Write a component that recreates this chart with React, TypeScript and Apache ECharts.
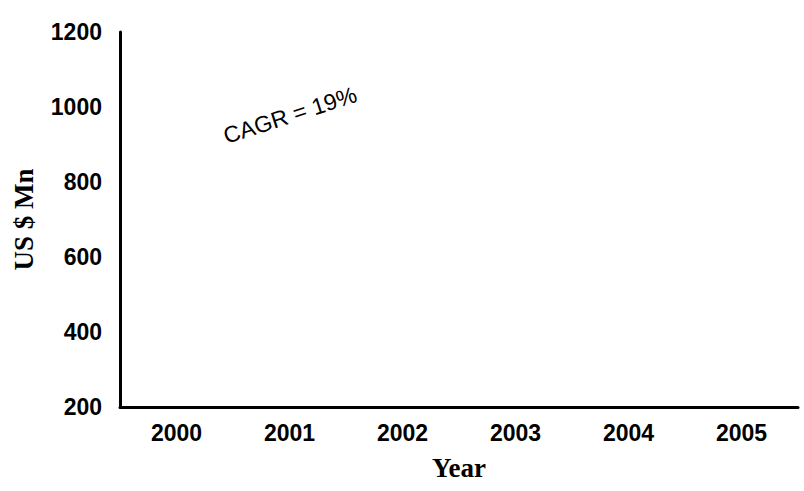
import React, { useEffect, useRef } from "react";
import * as echarts from "echarts";

const categories = ["2000", "2001", "2002", "2003", "2004", "2005"];
// No bars are visible in the reference picture; values are left empty.
const values: (number | null)[] = [null, null, null, null, null, null];
const yMin = 200;
const yMax = 1200;
const yInterval = 200;
const annotation = "CAGR = 19%";
const xTitle = "Year";
const yTitle = "US $ Mn";

export default function App() {
  const ref = useRef<HTMLDivElement>(null);
  useEffect(() => {
    if (!ref.current) return;
    const chart = echarts.init(ref.current, undefined, { renderer: "svg" });
    chart.setOption({
      animation: false,
      backgroundColor: "#ffffff",
      grid: { left: 120, right: 6, top: 32, bottom: 84 },
      xAxis: {
        type: "category",
        data: categories,
        boundaryGap: true,
        axisLine: { show: true, lineStyle: { color: "#000", width: 3 } },
        axisTick: { show: false },
        axisLabel: {
          margin: 14,
          color: "#000",
          fontFamily: "Liberation Sans, Arial, sans-serif",
          fontWeight: "bold",
          fontSize: 23,
        },
        name: xTitle,
        nameLocation: "middle",
        nameGap: 47,
        nameTextStyle: {
          color: "#000",
          fontFamily: "Liberation Serif, Times New Roman, serif",
          fontWeight: "bold",
          fontSize: 27,
        },
      },
      yAxis: {
        type: "value",
        min: yMin,
        max: yMax,
        interval: yInterval,
        splitLine: { show: false },
        axisLine: { show: true, lineStyle: { color: "#000", width: 3 } },
        axisTick: { show: false },
        axisLabel: {
          margin: 18,
          color: "#000",
          fontFamily: "Liberation Sans, Arial, sans-serif",
          fontWeight: "bold",
          fontSize: 23,
          formatter: (v: number) => String(v),
        },
        name: yTitle,
        nameLocation: "middle",
        nameRotate: 90,
        nameGap: 83,
        nameTextStyle: {
          color: "#000",
          fontFamily: "Liberation Serif, Times New Roman, serif",
          fontWeight: "bold",
          fontSize: 27,
        },
      },
      series: [
        {
          type: "bar",
          data: values,
          itemStyle: { color: "#000" },
        },
      ],
      graphic: [
        {
          type: "text",
          x: 290,
          y: 115,
          rotation: (18 * Math.PI) / 180,
          style: {
            text: annotation,
            fill: "#000",
            font: "23px 'Liberation Sans', Arial, sans-serif",
            align: "center",
            verticalAlign: "middle",
          },
        },
      ],
    });
    return () => chart.dispose();
  }, []);
  return <div ref={ref} style={{ width: 804, height: 491, position: "absolute", left: 0, top: 0 }} />;
}
